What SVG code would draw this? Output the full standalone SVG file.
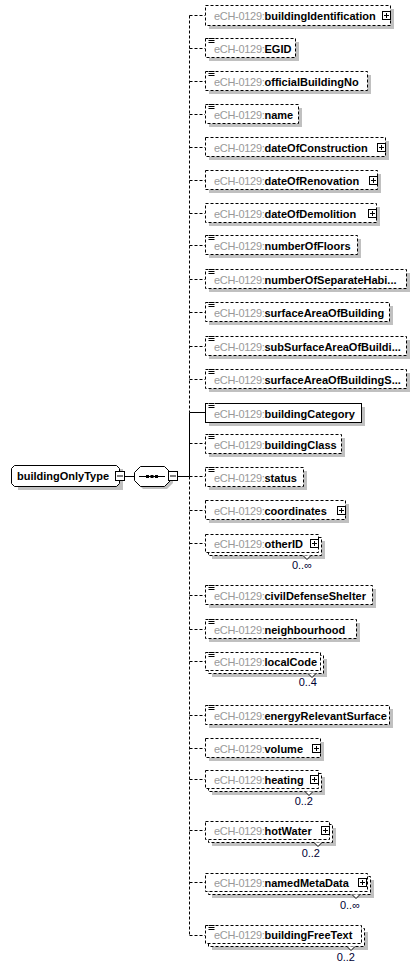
<svg xmlns="http://www.w3.org/2000/svg" xmlns:xlink="http://www.w3.org/1999/xlink" width="420" height="970" viewBox="0 0 420 970">
<style>
.box{fill:#fff;stroke:#000;stroke-width:1;stroke-dasharray:3,2}
.solid{stroke-dasharray:none}
.shadow{fill:#c0c0c0;stroke:none}
.conn{fill:none;stroke:#000;stroke-width:1;stroke-dasharray:3,2}
.sconn{fill:none;stroke:#000;stroke-width:1}
text{font-family:"Liberation Sans",Arial,sans-serif;font-size:11px}
.ns{fill:#999;letter-spacing:-0.3px}
.nm{font-weight:bold;fill:#000}
.mult{fill:#000033}
.ic{fill:#fff;stroke:#000;stroke-width:1}
</style>
<defs>
<g id="plus"><rect class="ic" x="0.5" y="0.5" width="8" height="8"/><path d="M2,4.5H7M4.5,2V7" stroke="#000" stroke-width="1"/></g>
<g id="minus"><rect class="ic" x="0.5" y="0.5" width="9" height="9"/><path d="M2,5H8" stroke="#000" stroke-width="1"/></g>
<g id="lines"><rect x="0" y="-1" width="7" height="7" fill="#fff"/><path d="M0.5,0.5H6.5M0.5,2.5H6.5M0.5,4.5H6.5" stroke="#000" stroke-width="1"/></g>
<path id="vee" d="M-4,0L0,4L4,0" fill="#fff" stroke="#000" stroke-width="1"/>
</defs>

<g id="connectors">
<path class="sconn" d="M124,476.5H134M178,476.5H189.5"/>
<path class="conn" d="M189.5,15.5V412.5M189.5,476.5V935.5"/>
<path class="sconn" d="M189.5,412.5V476.5M189.5,412.5H205"/>
<path class="conn" d="M189.5,15.5H205M189.5,48.5H205M189.5,81.5H205M189.5,114.5H205M189.5,147.5H205M189.5,180.5H205M189.5,213.5H205M189.5,245.5H205M189.5,279.5H205M189.5,312.5H205M189.5,346.5H205M189.5,379.5H205M189.5,443.5H205M189.5,476.5H205M189.5,510.5H205M189.5,543.5H205M189.5,595.5H205M189.5,629.5H205M189.5,661.5H205M189.5,715.5H205M189.5,748.5H205M189.5,779.5H205M189.5,830.5H205M189.5,882.5H205M189.5,935.5H205"/>
</g>

<g id="root">
<path class="shadow" d="M18,469H123V490H18Z"/>
<path d="M14.5,465.5H116.5L119.5,468.5V483.5L116.5,486.5H14.5L11.5,483.5V468.5Z" fill="#fff" stroke="#000"/>
<text x="17" y="480" class="nm">buildingOnlyType</text>
<use xlink:href="#minus" x="115" y="471"/>
</g>

<g id="sequence">
<path class="shadow" d="M143,469H167L173,475V483L167,489H143L137,483V475Z"/>
<path d="M140.5,466.5H164.5L170.5,472.5V480.5L164.5,486.5H140.5L134.5,480.5V472.5Z" fill="#fff" stroke="#000"/>
<path d="M139,476.5H165" stroke="#000"/>
<rect x="146" y="475" width="3" height="3" fill="#000"/><rect x="150.5" y="475" width="3" height="3" fill="#000"/><rect x="155" y="475" width="3" height="3" fill="#000"/>
<use xlink:href="#minus" x="168" y="471"/>
</g>

<g id="buildingIdentification"><rect class="shadow" x="209" y="9" width="185" height="20"/><rect class="box" x="205.5" y="5.5" width="185" height="20"/><text x="214" y="20"><tspan class="ns">eCH-0129:</tspan><tspan class="nm">buildingIdentification</tspan></text><use xlink:href="#plus" x="382" y="11"/></g>

<g id="EGID"><rect class="shadow" x="209" y="42" width="90" height="19"/><rect class="box" x="205.5" y="38.5" width="90" height="19"/><use xlink:href="#lines" x="208" y="38"/><text x="214" y="53"><tspan class="ns">eCH-0129:</tspan><tspan class="nm">EGID</tspan></text></g>

<g id="officialBuildingNo"><rect class="shadow" x="209" y="75" width="162" height="19"/><rect class="box" x="205.5" y="71.5" width="162" height="19"/><use xlink:href="#lines" x="208" y="71"/><text x="214" y="86"><tspan class="ns">eCH-0129:</tspan><tspan class="nm">officialBuildingNo</tspan></text></g>

<g id="name"><rect class="shadow" x="209" y="108" width="93" height="19"/><rect class="box" x="205.5" y="104.5" width="93" height="19"/><use xlink:href="#lines" x="208" y="104"/><text x="214" y="119"><tspan class="ns">eCH-0129:</tspan><tspan class="nm">name</tspan></text></g>

<g id="dateOfConstruction"><rect class="shadow" x="209" y="141" width="180" height="19"/><rect class="box" x="205.5" y="137.5" width="180" height="19"/><text x="214" y="152"><tspan class="ns">eCH-0129:</tspan><tspan class="nm">dateOfConstruction</tspan></text><use xlink:href="#plus" x="377" y="143"/></g>

<g id="dateOfRenovation"><rect class="shadow" x="209" y="174" width="172" height="19"/><rect class="box" x="205.5" y="170.5" width="172" height="19"/><text x="214" y="185"><tspan class="ns">eCH-0129:</tspan><tspan class="nm">dateOfRenovation</tspan></text><use xlink:href="#plus" x="369" y="176"/></g>

<g id="dateOfDemolition"><rect class="shadow" x="209" y="207" width="171" height="19"/><rect class="box" x="205.5" y="203.5" width="171" height="19"/><text x="214" y="218"><tspan class="ns">eCH-0129:</tspan><tspan class="nm">dateOfDemolition</tspan></text><use xlink:href="#plus" x="368" y="209"/></g>

<g id="numberOfFloors"><rect class="shadow" x="209" y="239" width="152" height="19"/><rect class="box" x="205.5" y="235.5" width="152" height="19"/><use xlink:href="#lines" x="208" y="235"/><text x="214" y="250"><tspan class="ns">eCH-0129:</tspan><tspan class="nm">numberOfFloors</tspan></text></g>

<g id="numberOfSeparateHabitationRooms"><rect class="shadow" x="209" y="273" width="201" height="19"/><rect class="box" x="205.5" y="269.5" width="201" height="19"/><use xlink:href="#lines" x="208" y="269"/><text x="214" y="284"><tspan class="ns">eCH-0129:</tspan><tspan class="nm">numberOfSeparateHabi...</tspan></text></g>

<g id="surfaceAreaOfBuilding"><rect class="shadow" x="209" y="306" width="184" height="19"/><rect class="box" x="205.5" y="302.5" width="184" height="19"/><use xlink:href="#lines" x="208" y="302"/><text x="214" y="317"><tspan class="ns">eCH-0129:</tspan><tspan class="nm">surfaceAreaOfBuilding</tspan></text></g>

<g id="subSurfaceAreaOfBuilding"><rect class="shadow" x="209" y="340" width="201" height="19"/><rect class="box" x="205.5" y="336.5" width="201" height="19"/><use xlink:href="#lines" x="208" y="336"/><text x="214" y="351"><tspan class="ns">eCH-0129:</tspan><tspan class="nm">subSurfaceAreaOfBuildi...</tspan></text></g>

<g id="surfaceAreaOfBuildingSignaturePart"><rect class="shadow" x="209" y="373" width="201" height="19"/><rect class="box" x="205.5" y="369.5" width="201" height="19"/><use xlink:href="#lines" x="208" y="369"/><text x="214" y="384"><tspan class="ns">eCH-0129:</tspan><tspan class="nm">surfaceAreaOfBuildingS...</tspan></text></g>

<g id="buildingCategory"><rect class="shadow" x="209" y="407" width="156" height="19"/><rect class="box solid" x="205.5" y="403.5" width="156" height="19"/><use xlink:href="#lines" x="208" y="403"/><text x="214" y="418"><tspan class="ns">eCH-0129:</tspan><tspan class="nm">buildingCategory</tspan></text></g>

<g id="buildingClass"><rect class="shadow" x="209" y="438" width="136" height="19"/><rect class="box" x="205.5" y="434.5" width="136" height="19"/><use xlink:href="#lines" x="208" y="434"/><text x="214" y="449"><tspan class="ns">eCH-0129:</tspan><tspan class="nm">buildingClass</tspan></text></g>

<g id="status"><rect class="shadow" x="209" y="471" width="98" height="19"/><rect class="box" x="205.5" y="467.5" width="98" height="19"/><use xlink:href="#lines" x="208" y="467"/><text x="214" y="482"><tspan class="ns">eCH-0129:</tspan><tspan class="nm">status</tspan></text></g>

<g id="coordinates"><rect class="shadow" x="209" y="504" width="140" height="19"/><rect class="box" x="205.5" y="500.5" width="140" height="19"/><text x="214" y="515"><tspan class="ns">eCH-0129:</tspan><tspan class="nm">coordinates</tspan></text><use xlink:href="#plus" x="337" y="506"/></g>

<g id="otherID"><rect class="shadow" x="212" y="541" width="113" height="18"/><rect class="box" x="208.5" y="537.5" width="113" height="18"/><rect class="box" x="205.5" y="534.5" width="113" height="18"/><text x="214" y="548"><tspan class="ns">eCH-0129:</tspan><tspan class="nm">otherID</tspan></text><use xlink:href="#plus" x="310" y="539"/><use xlink:href="#vee" x="307" y="555.5"/><text x="312" y="569" text-anchor="end" class="mult">0..∞</text></g>

<g id="civilDefenseShelter"><rect class="shadow" x="209" y="589" width="167" height="19"/><rect class="box" x="205.5" y="585.5" width="167" height="19"/><use xlink:href="#lines" x="208" y="585"/><text x="214" y="600"><tspan class="ns">eCH-0129:</tspan><tspan class="nm">civilDefenseShelter</tspan></text></g>

<g id="neighbourhood"><rect class="shadow" x="209" y="623" width="151" height="19"/><rect class="box" x="205.5" y="619.5" width="151" height="19"/><use xlink:href="#lines" x="208" y="619"/><text x="214" y="634"><tspan class="ns">eCH-0129:</tspan><tspan class="nm">neighbourhood</tspan></text></g>

<g id="localCode"><rect class="shadow" x="212" y="659" width="115" height="18"/><rect class="box" x="208.5" y="655.5" width="115" height="18"/><rect class="box" x="205.5" y="652.5" width="115" height="18"/><use xlink:href="#lines" x="208" y="652"/><text x="214" y="666"><tspan class="ns">eCH-0129:</tspan><tspan class="nm">localCode</tspan></text><use xlink:href="#vee" x="312" y="673.5"/><text x="317" y="686" text-anchor="end" class="mult">0..4</text></g>

<g id="energyRelevantSurface"><rect class="shadow" x="209" y="709" width="184" height="19"/><rect class="box" x="205.5" y="705.5" width="184" height="19"/><use xlink:href="#lines" x="208" y="705"/><text x="214" y="720"><tspan class="ns">eCH-0129:</tspan><tspan class="nm">energyRelevantSurface</tspan></text></g>

<g id="volume"><rect class="shadow" x="209" y="742" width="115" height="19"/><rect class="box" x="205.5" y="738.5" width="115" height="19"/><text x="214" y="753"><tspan class="ns">eCH-0129:</tspan><tspan class="nm">volume</tspan></text><use xlink:href="#plus" x="312" y="744"/></g>

<g id="heating"><rect class="shadow" x="212" y="777" width="113" height="18"/><rect class="box" x="208.5" y="773.5" width="113" height="18"/><rect class="box" x="205.5" y="770.5" width="113" height="18"/><text x="214" y="784"><tspan class="ns">eCH-0129:</tspan><tspan class="nm">heating</tspan></text><use xlink:href="#plus" x="310" y="775"/><use xlink:href="#vee" x="309" y="791.5"/><text x="313" y="805" text-anchor="end" class="mult">0..2</text></g>

<g id="hotWater"><rect class="shadow" x="212" y="828" width="124" height="18"/><rect class="box" x="208.5" y="824.5" width="124" height="18"/><rect class="box" x="205.5" y="821.5" width="124" height="18"/><text x="214" y="835"><tspan class="ns">eCH-0129:</tspan><tspan class="nm">hotWater</tspan></text><use xlink:href="#plus" x="321" y="826"/><use xlink:href="#vee" x="318" y="842.5"/><text x="320" y="857" text-anchor="end" class="mult">0..2</text></g>

<g id="namedMetaData"><rect class="shadow" x="212" y="880" width="162" height="18"/><rect class="box" x="208.5" y="876.5" width="162" height="18"/><rect class="box" x="205.5" y="873.5" width="162" height="18"/><text x="214" y="887"><tspan class="ns">eCH-0129:</tspan><tspan class="nm">namedMetaData</tspan></text><use xlink:href="#plus" x="358" y="878"/><use xlink:href="#vee" x="356" y="894.5"/><text x="360" y="909" text-anchor="end" class="mult">0..∞</text></g>

<g id="buildingFreeText"><rect class="shadow" x="212" y="932" width="156" height="18"/><rect class="box" x="208.5" y="928.5" width="156" height="18"/><rect class="box" x="205.5" y="925.5" width="156" height="18"/><use xlink:href="#lines" x="208" y="925"/><text x="214" y="939"><tspan class="ns">eCH-0129:</tspan><tspan class="nm">buildingFreeText</tspan></text><use xlink:href="#vee" x="351" y="946.5"/><text x="355" y="961" text-anchor="end" class="mult">0..2</text></g>
</svg>
